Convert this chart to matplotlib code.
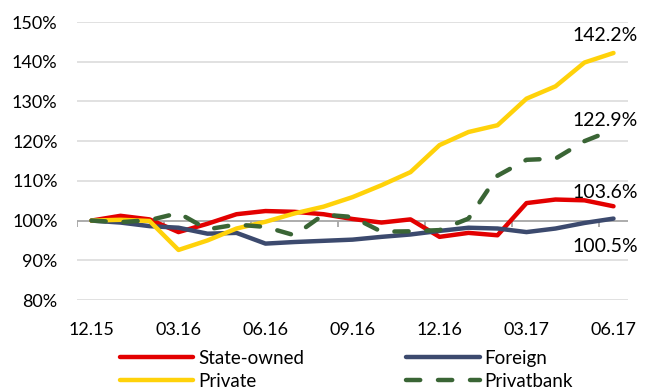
import matplotlib.pyplot as plt
import numpy as np

plt.rcParams['font.family'] = ['Lato', 'DejaVu Sans']

# Monthly index, Dec 2015 = 100%
months = ['12.15', '01.16', '02.16', '03.16', '04.16', '05.16', '06.16', '07.16',
          '08.16', '09.16', '10.16', '11.16', '12.16', '01.17', '02.17', '03.17',
          '04.17', '05.17', '06.17']
state_owned = [100.0, 101.2, 100.3, 97.1, 99.2, 101.6, 102.4, 102.2, 101.6, 100.4,
               99.5, 100.3, 95.9, 96.9, 96.3, 104.4, 105.3, 105.1, 103.6]
foreign = [100.0, 99.5, 98.6, 98.2, 96.7, 96.9, 94.2, 94.6, 94.9, 95.2,
           95.9, 96.5, 97.4, 98.2, 98.0, 97.1, 98.0, 99.4, 100.5]
private = [100.0, 100.2, 99.9, 92.6, 95.0, 98.0, 99.7, 101.8, 103.5, 105.9,
           108.9, 112.2, 119.0, 122.3, 124.0, 130.7, 133.8, 139.8, 142.2]
privatbank = [100.0, 99.6, 100.1, 101.9, 97.8, 99.0, 98.4, 96.3, 101.5, 100.9,
              97.2, 97.3, 97.6, 100.5, 111.3, 115.3, 115.6, 120.0, 122.9]

tick_every = 3
yticks = [80, 90, 100, 110, 120, 130, 140, 150]

c_state = '#E30000'
c_foreign = '#3C4A6E'
c_private = '#FFD20A'
c_pbank = '#3A6535'

x = np.arange(len(months))

fig = plt.figure(figsize=(6.47, 3.92), dpi=100)
ax = fig.add_axes([77 / 647, 1 - 300 / 392, 551 / 647, 278 / 392])

ax.set_xlim(-0.5, len(months) - 0.5)
ax.set_ylim(80, 150)

# gridlines, with the category axis crossing at 100%
for v in yticks:
    if v != 100:
        ax.axhline(v, color='#D9D9D9', lw=1.1, zorder=0)
ax.axhline(100, color='#A6A6A6', lw=1.3, zorder=1)
bounds = np.arange(0, len(months), tick_every) - 0.5
ax.vlines(bounds, 98.3, 100, color='#A6A6A6', lw=1.3, zorder=1)

l1, = ax.plot(x, state_owned, color=c_state, lw=3.2, solid_capstyle='round', zorder=3, label='State-owned')
l2, = ax.plot(x, foreign, color=c_foreign, lw=3.2, solid_capstyle='round', zorder=3, label='Foreign')
l3, = ax.plot(x, private, color=c_private, lw=3.2, solid_capstyle='round', zorder=3, label='Private')
l4, = ax.plot(x, privatbank, color=c_pbank, lw=3.2, dashes=(3.2, 4.0), dash_capstyle='round',
              zorder=4, label='Privatbank')

for s in ax.spines.values():
    s.set_visible(False)

ax.set_yticks(yticks)
ax.set_yticklabels([f'{v}%' for v in yticks])
ax.set_xticks(x[::tick_every])
ax.set_xticklabels(months[::tick_every])
ax.tick_params(axis='y', length=0, pad=14, labelsize=13, labelcolor='#000000')
ax.tick_params(axis='x', length=0, pad=16, labelsize=13, labelcolor='#000000')

# end-of-period value labels
last = len(months) - 1
for series, dy in [(private, 17), (privatbank, 9), (state_owned, 14), (foreign, -28)]:
    ax.annotate(f'{series[-1]:.1f}%', (x[last], series[-1]), xytext=(-8, dy),
                textcoords='offset pixels', ha='center', va='center', fontsize=14)

fig.legend([l1, l3, l2, l4], ['State-owned', 'Private', 'Foreign', 'Privatbank'],
           ncol=2, loc='upper left', bbox_to_anchor=(120 / 647, 1 - 350 / 392),
           frameon=False, borderpad=0, borderaxespad=0, handlelength=3.9,
           handletextpad=0.27, columnspacing=5.45, labelspacing=0.3, fontsize=13.5)

fig.savefig('out.png', dpi=100)
